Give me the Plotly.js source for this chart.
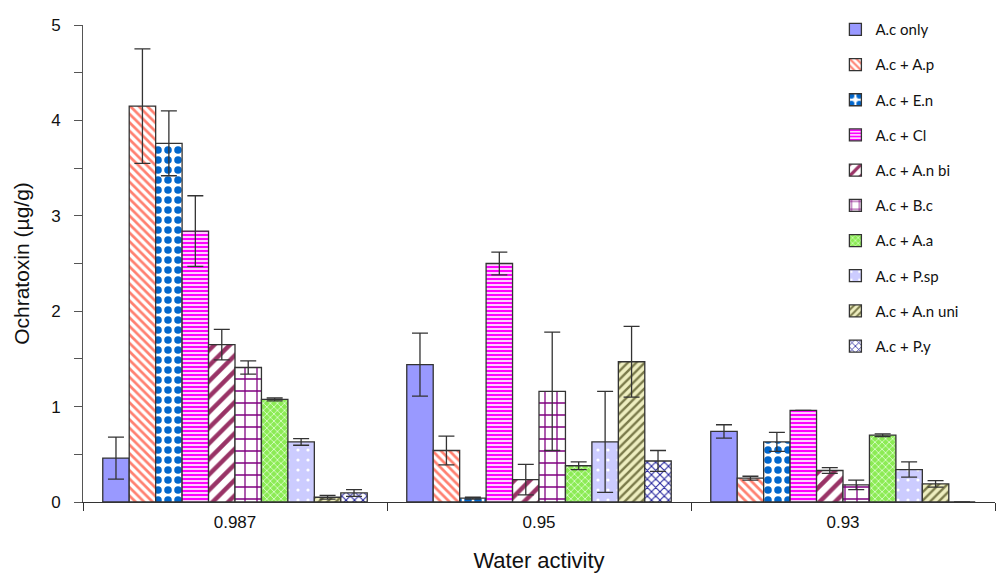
<!DOCTYPE html>
<html>
<head>
<meta charset="utf-8">
<script src="https://cdn.plot.ly/plotly-3.0.1.min.js"></script>
<style>body{margin:0;background:#fff}#chart{width:1000px;height:580px}</style>
</head>
<body>
<div id="chart"></div>
<script>
const categories = ['0.987', '0.95', '0.93'];
const seriesNames = ['A.c only', 'A.c + A.p', 'A.c + E.n', 'A.c + Cl', 'A.c + A.n bi',
  'A.c + B.c', 'A.c + A.a', 'A.c + P.sp', 'A.c + A.n uni', 'A.c + P.y'];

const acOnly   = [0.46, 1.44, 0.74];
const acAp     = [4.15, 0.54, 0.25];
const acEn     = [3.76, 0.04, 0.63];
const acCl     = [2.84, 2.50, 0.96];
const acAnbi   = [1.65, 0.235, 0.33];
const acBc     = [1.41, 1.16, 0.18];
const acAa     = [1.075, 0.38, 0.70];
const acPsp    = [0.63, 0.63, 0.34];
const acAnuni  = [0.05, 1.47, 0.19];
const acPy     = [0.095, 0.43, 0];

const errOnly  = [0.22, 0.33, 0.07];
const errAp    = [0.60, 0.15, 0.02];
const errEn    = [0.34, 0.01, 0.10];
const errCl    = [0.37, 0.12, 0];
const errAnbi  = [0.16, 0.16, 0.03];
const errBc    = [0.07, 0.62, 0.05];
const errAa    = [0.015, 0.04, 0.015];
const errPsp   = [0.035, 0.53, 0.08];
const errAnuni = [0.02, 0.37, 0.035];
const errPy    = [0.035, 0.11, 0];

const values = [acOnly, acAp, acEn, acCl, acAnbi, acBc, acAa, acPsp, acAnuni, acPy];
const errors = [errOnly, errAp, errEn, errCl, errAnbi, errBc, errAa, errPsp, errAnuni, errPy];

const styles = [
  {color: '#9999FF', pattern: {shape: ''}},
  {color: '#FF8080', pattern: {shape: '\\', fgcolor: '#FF8070', bgcolor: '#FFFFFF', size: 6, solidity: 0.45}},
  {color: '#0066CC', pattern: {shape: '.', fgcolor: '#0066CC', bgcolor: '#FFFFFF', size: 10, solidity: 0.45}},
  {color: '#FF00FF', pattern: {shape: '-', fgcolor: '#FF00FF', bgcolor: '#FFFFFF', size: 4, solidity: 0.6}},
  {color: '#993366', pattern: {shape: '/', fgcolor: '#993366', bgcolor: '#FFFFFF', size: 11, solidity: 0.4}},
  {color: '#800080', pattern: {shape: '+', fgcolor: '#800080', bgcolor: '#FFFFFF', size: 12, solidity: 0.2}},
  {color: '#99FF66', pattern: {shape: 'x', fgcolor: '#E0FFD0', bgcolor: '#8CEB55', size: 5, solidity: 0.3}},
  {color: '#CCCCFF', pattern: {shape: '.', fgcolor: '#FFFFFF', bgcolor: '#CCCCFF', size: 10, solidity: 0.08}},
  {color: '#999966', pattern: {shape: '/', fgcolor: '#7A7A4A', bgcolor: '#EEEEC0', size: 6, solidity: 0.4}},
  {color: '#000099', pattern: {shape: 'x', fgcolor: '#1A1A99', bgcolor: '#FFFFFF', size: 6, solidity: 0.3}}
];

const traces = seriesNames.map((name, i) => ({
  type: 'bar',
  name: name,
  legendgroup: 'g' + i,
  x: categories,
  y: values[i],
  marker: {
    color: styles[i].color,
    pattern: styles[i].pattern,
    line: {color: '#333333', width: 1.3}
  },
  error_y: {type: 'data', array: errors[i], visible: true, color: '#333333', thickness: 1.3, width: 8}
}));

const tickFamily = '"Liberation Sans Narrow", "Liberation Sans", Arial, sans-serif';

const layout = {
  width: 1000, height: 580,
  margin: {l: 83, r: 5, t: 25, b: 78},
  paper_bgcolor: '#FFFFFF', plot_bgcolor: '#FFFFFF',
  barmode: 'group', bargap: 0.13, bargroupgap: 0,
  showlegend: true,
  legend: {
    x: 0.825, y: 1.025, xanchor: 'left', yanchor: 'top',
    font: {family: 'Lato, "Open Sans", sans-serif', size: 15, color: '#111'},
    tracegroupgap: 12.7, bgcolor: 'rgba(0,0,0,0)', maxheight: 1
  },
  xaxis: {
    type: 'category',
    showline: true, linecolor: '#333', linewidth: 1.3,
    ticks: 'outside', tickson: 'boundaries', ticklen: 8, tickcolor: '#333',
    tickfont: {family: tickFamily, size: 17, color: '#111'},
    ticklabelstandoff: 4,
    title: {text: 'Water activity', font: {family: '"Liberation Sans", Arial, sans-serif', size: 22, color: '#111'}, standoff: 22},
    showgrid: false
  },
  yaxis: {
    range: [0, 5], dtick: 1,
    showline: true, linecolor: '#555', linewidth: 1,
    ticks: 'outside', ticklen: 8, tickcolor: '#555',
    minor: {dtick: 0.5, ticks: 'outside', ticklen: 8, tickcolor: '#555'},
    showgrid: false, zeroline: false,
    tickfont: {family: tickFamily, size: 17, color: '#111'},
    ticklabelstandoff: 10,
    title: {text: 'Ochratoxin (µg/g)', font: {family: '"Liberation Sans", Arial, sans-serif', size: 21, color: '#111'}, standoff: 15}
  }
};

Plotly.newPlot('chart', traces, layout, {displayModeBar: false, staticPlot: true});
</script>
</body>
</html>
